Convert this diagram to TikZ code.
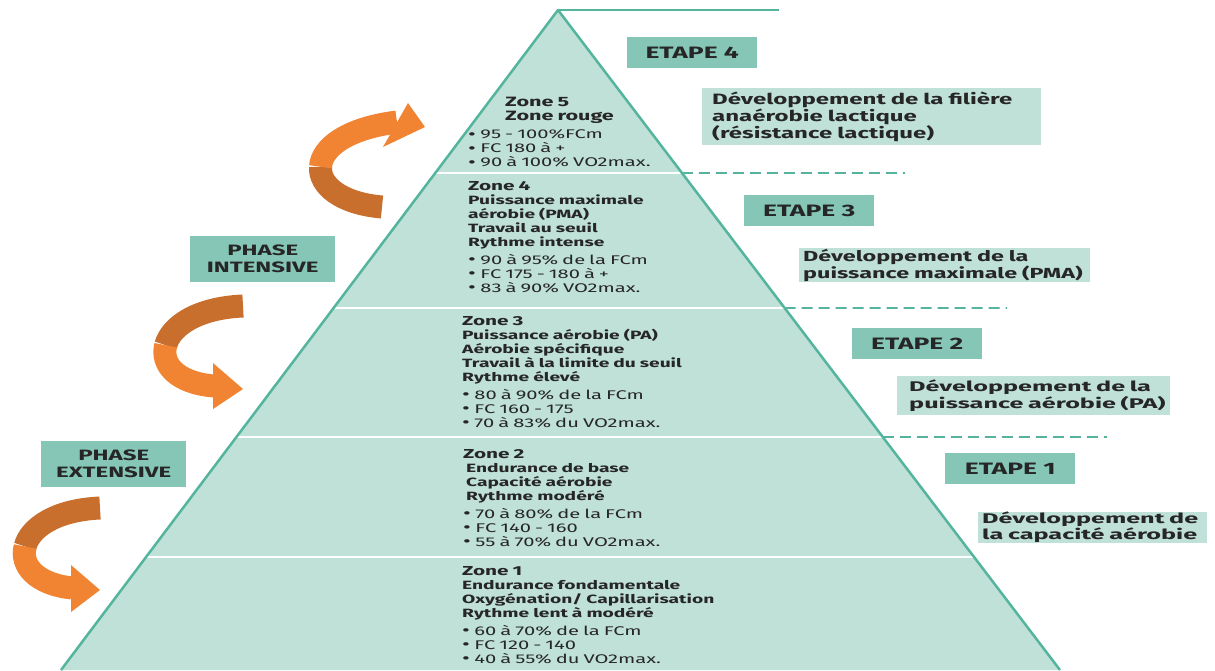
\documentclass[tikz,border=0pt]{standalone}
\usepackage{fontspec}
\usetikzlibrary{calc}
\newfontfamily\zf{Fira Sans}[FakeStretch=1.6]
\newfontfamily\zfw{Fira Sans}[FakeStretch=1.8]
\definecolor{pyr}{RGB}{192,225,216}
\definecolor{edgec}{RGB}{84,180,158}
\definecolor{etp}{RGB}{133,198,182}
\definecolor{txt}{RGB}{38,38,38}
\definecolor{orD}{RGB}{200,111,45}
\definecolor{orL}{RGB}{240,132,50}
\tikzset{
  etape/.style={fill=etp, anchor=north west, minimum width=130pt, minimum height=31pt, inner sep=0pt,
    text=txt, font=\zf\bfseries\fontsize{16.5}{18}\selectfont},
  phase/.style={fill=etp, anchor=north west, minimum width=145pt, minimum height=46pt, inner sep=0pt,
    align=center, text=txt, font=\zf\bfseries\fontsize{15}{17}\selectfont},
  desc/.style={fill=pyr, anchor=north west, inner ysep=0pt, align=left, text=txt,
    font=\zf\bfseries\fontsize{15}{17}\selectfont},
  zone/.style={anchor=north west, inner sep=0pt, text width=300pt, align=left, text=txt,
    font=\zf\fontsize{12}{14}\selectfont},
  divider/.style={white, line width=2pt},
  guide/.style={edgec, line width=1.8pt, dash pattern=on 11pt off 6pt},
  sideline/.style={edgec, line width=2.5pt, line join=round},
  back/.style={orD, line width=23pt},
  front/.style={orL, line width=23pt}
}
\newcommand{\zt}{\bfseries\fontsize{13}{14}\selectfont}
\newcommand{\zs}{\bfseries\fontsize{12}{14}\selectfont}
\newcommand{\zb}{\mdseries\fontsize{12.6}{14}\selectfont}
\newcommand{\bul}{{\fontsize{15}{14}\selectfont\raisebox{-0.6pt}{•}}\hspace{4.5pt}}
\begin{document}
\begin{tikzpicture}[x=1pt,y=-1pt]
\useasboundingbox (0,0) rectangle (1215,670);
\begin{scope}
\clip (0,0) rectangle (1215,670);
\coordinate (apex) at (558,10);
\coordinate (bl) at (61,670);
\coordinate (br) at (1060,670);
\coordinate (topend) at (779,10);
\fill[pyr] (apex) -- (bl) -- (br) -- cycle;
% divider levels
\coordinate (l1) at ($(apex)!0.24697!(bl)$);
\coordinate (r1) at ($(apex)!0.24697!(br)$);
\coordinate (l2) at ($(apex)!0.45152!(bl)$);
\coordinate (r2) at ($(apex)!0.45152!(br)$);
\coordinate (l3) at ($(apex)!0.64697!(bl)$);
\coordinate (r3) at ($(apex)!0.64697!(br)$);
\coordinate (l4) at ($(apex)!0.82879!(bl)$);
\coordinate (r4) at ($(apex)!0.82879!(br)$);
\coordinate (g1) at (905,173);
\coordinate (g2) at (1007,308);
\coordinate (g3) at (1107,437);
\draw[divider] (l1) -- (r1);
\draw[divider] (l2) -- (r2);
\draw[divider] (l3) -- (r3);
\draw[divider] (l4) -- (r4);
\draw[guide] (r1) -- (g1);
\draw[guide] (r2) -- (g2);
\draw[guide] (r3) -- (g3);
\draw[sideline] (bl) -- (apex) -- (br);
\draw[edgec, line width=1.8pt] (apex) -- (topend);
\end{scope}

% zone texts
\node[zone, text width=150pt] (z5t) at (505,97) {\zt\fontsize{13.5}{16}\selectfont Zone 5\\Zone rouge};
\node[zone] (z5b) at (468,129.5) {\zb \bul 95 - 100\%FCm\\\bul FC 180 à +\\\bul 90 à 100\% VO2max.};
\node[zone] (z4) at (468,181) {\zt Zone 4\\\zs Puissance maximale\\aérobie (PMA)\\Travail au seuil\\Rythme intense\\[4pt]\zb \bul 90 à 95\% de la FCm\\\bul FC 175 - 180 à +\\\bul 83 à 90\% VO2max.};
\node[zone] (z3) at (462,316) {\zt Zone 3\\\zs Puissance aérobie (PA)\\Aérobie spécifique\\Travail à la limite du seuil\\Rythme élevé\\[4pt]\zb \bul 80 à 90\% de la FCm\\\bul FC 160 - 175\\\bul 70 à 83\% du VO2max.};
\node[zone] (z2) at (463,449) {\zt Zone 2\\\zs\hspace{3pt}Endurance de base\\\hspace{3pt}Capacité aérobie\\\hspace{3pt}Rythme modéré\\[4pt]\zb \bul 70 à 80\% de la FCm\\\bul FC 140 - 160\\\bul 55 à 70\% du VO2max.};
\node[zone] (z1) at (462,566) {\zt Zone 1\\\zs Endurance fondamentale\\Oxygénation/ Capillarisation\\Rythme lent à modéré\\[4pt]\zb \bul 60 à 70\% de la FCm\\\bul FC 120 - 140\\\bul 40 à 55\% du VO2max.};

% etapes
\node[etape] (e4) at (627,37) {ETAPE 4};
\node[etape] (e3) at (744,195) {ETAPE 3};
\node[etape] (e2) at (852,328) {ETAPE 2};
\node[etape] (e1) at (945,453) {ETAPE 1};

% descriptions
\node[desc, inner xsep=10pt, text width=319pt, minimum height=57pt] (d4) at (702,88)
  {Développement de la filière\\anaérobie lactique\\(résistance lactique)};
\node[desc, inner xsep=4pt, text width=283pt, minimum height=34pt, font=\zf\bfseries\fontsize{14.6}{15}\selectfont] (d3) at (799,248)
  {Développement de la\\puissance maximale (PMA)};
\node[desc, inner xsep=0pt, text width=273pt, minimum height=39pt, font=\zfw\bfseries\fontsize{14}{15}\selectfont] (d2) at (897,376)
  {\hspace*{12pt}Développement de la\\\hspace*{12pt}puissance aérobie (PA)};
\node[desc, inner xsep=0pt, text width=229pt, minimum height=30pt, font=\zfw\bfseries\fontsize{14}{14}\selectfont] (d1) at (978,512)
  {\hspace*{4pt}Développement de\\\hspace*{4pt}la capacité aérobie};

% phases
\node[phase] (pi) at (190,236) {PHASE\\INTENSIVE};
\node[phase] (pe) at (41,441) {PHASE\\EXTENSIVE};

% arrows
\draw[back] (382,207) .. controls (341,203.5) and (319.25,185.5) .. (320.5,166.75);
\draw[front] (320.5,166.75) .. controls (321.75,148) and (346,128.5) .. (397,122);
\fill[orL] (408,103) -- (425,127) -- (383,147) -- cycle;

\draw[back] (243,306) .. controls (196.5,308) and (170.75,326.5) .. (165.75,345.25);
\draw[front] (165.75,345.25) .. controls (160.75,364) and (176.5,383) .. (214,386);
\fill[orL] (213,363) -- (243,389) -- (213,409) -- cycle;

\draw[back] (100,508) .. controls (55,510) and (30,528) .. (25.125,546.5);
\draw[front] (25.125,546.5) .. controls (20.25,565) and (35.5,584) .. (72,588);
\fill[orL] (71,565) -- (100,590) -- (71,612) -- cycle;
\end{tikzpicture}
\end{document}
